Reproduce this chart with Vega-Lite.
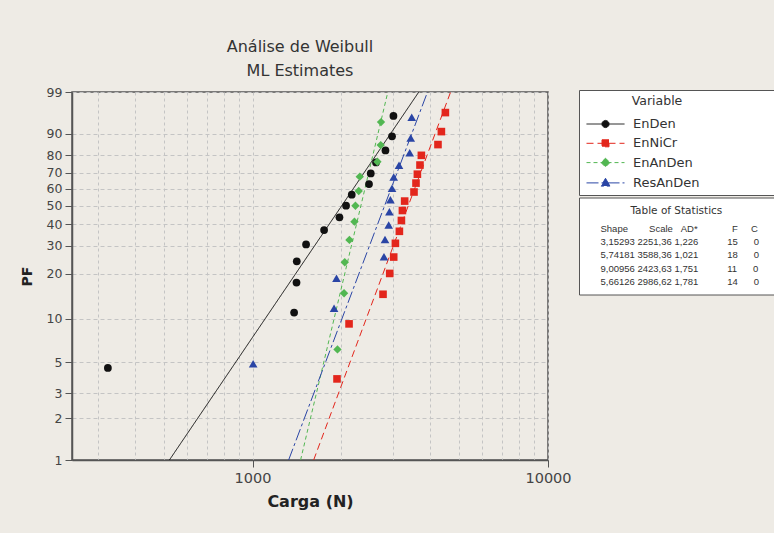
{
  "$schema": "https://vega.github.io/schema/vega-lite/v6.json",
  "autosize": {"type": "none"},
  "padding": {"left": 72, "top": 92, "right": 226, "bottom": 73},
  "width": 476,
  "height": 368,
  "background": "#eeebe5",
  "config": {
    "font": "DejaVu Sans",
    "view": {"stroke": "#555555", "strokeWidth": 1.5, "fill": "#ffffff"}
  },
  "title": {
    "text": "Análise de Weibull",
    "subtitle": "ML Estimates",
    "anchor": "middle",
    "frame": "group",
    "dx": -10,
    "offset": 7,
    "font": "DejaVu Sans",
    "fontSize": 16,
    "fontWeight": "normal",
    "color": "#333333",
    "subtitleFont": "DejaVu Sans",
    "subtitleFontSize": 16,
    "subtitleColor": "#333333",
    "subtitlePadding": 8.5
  },
  "datasets": {
    "pontos": [
      {"Variable": "EnDen", "Carga": 324, "PF": 4.545},
      {"Variable": "EnDen", "Carga": 1383, "PF": 11.039},
      {"Variable": "EnDen", "Carga": 1409, "PF": 17.532},
      {"Variable": "EnDen", "Carga": 1412, "PF": 24.026},
      {"Variable": "EnDen", "Carga": 1518, "PF": 30.519},
      {"Variable": "EnDen", "Carga": 1747, "PF": 37.013},
      {"Variable": "EnDen", "Carga": 1969, "PF": 43.506},
      {"Variable": "EnDen", "Carga": 2073, "PF": 50.0},
      {"Variable": "EnDen", "Carga": 2167, "PF": 56.494},
      {"Variable": "EnDen", "Carga": 2479, "PF": 62.987},
      {"Variable": "EnDen", "Carga": 2513, "PF": 69.481},
      {"Variable": "EnDen", "Carga": 2618, "PF": 75.974},
      {"Variable": "EnDen", "Carga": 2818, "PF": 82.468},
      {"Variable": "EnDen", "Carga": 2966, "PF": 88.961},
      {"Variable": "EnDen", "Carga": 2999, "PF": 95.455},
      {"Variable": "EnNiCr", "Carga": 1932, "PF": 3.804},
      {"Variable": "EnNiCr", "Carga": 2122, "PF": 9.239},
      {"Variable": "EnNiCr", "Carga": 2765, "PF": 14.674},
      {"Variable": "EnNiCr", "Carga": 2913, "PF": 20.109},
      {"Variable": "EnNiCr", "Carga": 3005, "PF": 25.543},
      {"Variable": "EnNiCr", "Carga": 3045, "PF": 30.978},
      {"Variable": "EnNiCr", "Carga": 3141, "PF": 36.413},
      {"Variable": "EnNiCr", "Carga": 3191, "PF": 41.848},
      {"Variable": "EnNiCr", "Carga": 3216, "PF": 47.283},
      {"Variable": "EnNiCr", "Carga": 3273, "PF": 52.717},
      {"Variable": "EnNiCr", "Carga": 3520, "PF": 58.152},
      {"Variable": "EnNiCr", "Carga": 3575, "PF": 63.587},
      {"Variable": "EnNiCr", "Carga": 3614, "PF": 69.022},
      {"Variable": "EnNiCr", "Carga": 3688, "PF": 74.457},
      {"Variable": "EnNiCr", "Carga": 3728, "PF": 79.891},
      {"Variable": "EnNiCr", "Carga": 4243, "PF": 85.326},
      {"Variable": "EnNiCr", "Carga": 4357, "PF": 90.761},
      {"Variable": "EnNiCr", "Carga": 4495, "PF": 96.196},
      {"Variable": "EnAnDen", "Carga": 1939, "PF": 6.14},
      {"Variable": "EnAnDen", "Carga": 2041, "PF": 14.912},
      {"Variable": "EnAnDen", "Carga": 2052, "PF": 23.684},
      {"Variable": "EnAnDen", "Carga": 2128, "PF": 32.456},
      {"Variable": "EnAnDen", "Carga": 2213, "PF": 41.228},
      {"Variable": "EnAnDen", "Carga": 2230, "PF": 50.0},
      {"Variable": "EnAnDen", "Carga": 2288, "PF": 58.772},
      {"Variable": "EnAnDen", "Carga": 2307, "PF": 67.544},
      {"Variable": "EnAnDen", "Carga": 2647, "PF": 76.316},
      {"Variable": "EnAnDen", "Carga": 2716, "PF": 85.088},
      {"Variable": "EnAnDen", "Carga": 2722, "PF": 93.86},
      {"Variable": "ResAnDen", "Carga": 1005, "PF": 4.861},
      {"Variable": "ResAnDen", "Carga": 1888, "PF": 11.806},
      {"Variable": "ResAnDen", "Carga": 1924, "PF": 18.75},
      {"Variable": "ResAnDen", "Carga": 2786, "PF": 25.694},
      {"Variable": "ResAnDen", "Carga": 2808, "PF": 32.639},
      {"Variable": "ResAnDen", "Carga": 2890, "PF": 39.583},
      {"Variable": "ResAnDen", "Carga": 2906, "PF": 46.528},
      {"Variable": "ResAnDen", "Carga": 2929, "PF": 53.472},
      {"Variable": "ResAnDen", "Carga": 2966, "PF": 60.417},
      {"Variable": "ResAnDen", "Carga": 3005, "PF": 67.361},
      {"Variable": "ResAnDen", "Carga": 3132, "PF": 74.306},
      {"Variable": "ResAnDen", "Carga": 3404, "PF": 81.25},
      {"Variable": "ResAnDen", "Carga": 3431, "PF": 88.194},
      {"Variable": "ResAnDen", "Carga": 3458, "PF": 95.139}
    ],
    "linhas": [
      {"Variable": "EnDen", "Carga": 523.4, "PF": 1},
      {"Variable": "EnDen", "Carga": 3654, "PF": 99},
      {"Variable": "EnNiCr", "Carga": 1610.5, "PF": 1},
      {"Variable": "EnNiCr", "Carga": 4682, "PF": 99},
      {"Variable": "EnAnDen", "Carga": 1454.5, "PF": 1},
      {"Variable": "EnAnDen", "Carga": 2871, "PF": 99},
      {"Variable": "ResAnDen", "Carga": 1325.2, "PF": 1},
      {"Variable": "ResAnDen", "Carga": 3911, "PF": 99}
    ]
  },
  "encoding": {
    "x": {
      "field": "Carga",
      "type": "quantitative",
      "scale": {"type": "log", "domain": [245, 10000], "nice": false},
      "axis": {
        "title": "Carga (N)",
        "values": [300, 400, 500, 600, 700, 800, 900, 1000, 2000, 3000, 4000, 5000, 6000, 7000, 8000, 9000, 10000],
        "labelExpr": "datum.value == 1000 || datum.value == 10000 ? format(datum.value, 'd') : ''",
        "labelFlush": false,
        "labelOverlap": false,
        "labelFont": "DejaVu Sans",
        "labelFontSize": 14.5,
        "labelColor": "#444444",
        "labelPadding": 4,
        "tickSize": 7,
        "tickColor": "#555555",
        "tickOpacity": {"condition": {"test": "datum.value == 1000 || datum.value == 10000", "value": 1}, "value": 0},
        "grid": true,
        "gridColor": "#c4c4c4",
        "gridDash": [3, 3],
        "domainColor": "#555555",
        "domainWidth": 1.5,
        "titleFont": "DejaVu Sans",
        "titleFontSize": 16,
        "titleFontWeight": "bold",
        "titleColor": "#222222",
        "titlePadding": 9
      }
    },
    "y": {
      "field": "W",
      "type": "quantitative",
      "scale": {"domain": [-4.60015, 1.52718], "nice": false, "zero": false},
      "axis": {
        "title": "PF",
        "values": [-4.60015, -3.90194, -3.49137, -2.9702, -2.25037, -1.49994, -1.03093, -0.67173, -0.36651, -0.08742, 0.18563, 0.47588, 0.83403, 1.52718],
        "labelExpr": "format(100 * (1 - exp(-exp(datum.value))), '.0f')",
        "labelFont": "DejaVu Sans",
        "labelFontSize": 12.5,
        "labelColor": "#444444",
        "labelPadding": 3,
        "labelOverlap": false,
        "labelFlush": false,
        "tickSize": 7,
        "tickColor": "#555555",
        "grid": true,
        "gridColor": "#c4c4c4",
        "gridDash": [4, 3],
        "domainColor": "#555555",
        "domainWidth": 1.5,
        "titleFont": "DejaVu Sans",
        "titleFontSize": 14,
        "titleFontWeight": "bold",
        "titleColor": "#222222",
        "titlePadding": 12
      }
    }
  },
  "layer": [
    {
      "data": {"name": "linhas"},
      "transform": [{"calculate": "log(-log(1 - datum.PF / 100))", "as": "W"}],
      "mark": {"type": "line", "strokeWidth": 1, "clip": true},
      "encoding": {
        "color": {
          "field": "Variable", "type": "nominal",
          "scale": {"domain": ["EnDen", "EnNiCr", "EnAnDen", "ResAnDen"], "range": ["#111111", "#e3261c", "#52b752", "#2a45a5"]}
        },
        "strokeDash": {
          "field": "Variable", "type": "nominal",
          "scale": {"domain": ["EnDen", "EnNiCr", "EnAnDen", "ResAnDen"], "range": [[1, 0], [7, 4], [4, 3], [12, 3, 3, 3]]}
        }
      }
    },
    {
      "data": {"name": "pontos"},
      "transform": [{"filter": {"field": "Variable", "equal": "EnDen"}}, {"calculate": "log(-log(1 - datum.PF / 100))", "as": "W"}],
      "mark": {"type": "point", "shape": "circle", "filled": true, "opacity": 1, "size": 60},
      "encoding": {"color": {"field": "Variable", "type": "nominal"}}
    },
    {
      "data": {"name": "pontos"},
      "transform": [{"filter": {"field": "Variable", "equal": "EnNiCr"}}, {"calculate": "log(-log(1 - datum.PF / 100))", "as": "W"}],
      "mark": {"type": "point", "shape": "square", "filled": true, "opacity": 1, "size": 58},
      "encoding": {"color": {"field": "Variable", "type": "nominal"}}
    },
    {
      "data": {"name": "pontos"},
      "transform": [{"filter": {"field": "Variable", "equal": "EnAnDen"}}, {"calculate": "log(-log(1 - datum.PF / 100))", "as": "W"}],
      "mark": {"type": "point", "shape": "diamond", "filled": true, "opacity": 1, "size": 70},
      "encoding": {"color": {"field": "Variable", "type": "nominal"}}
    },
    {
      "data": {"name": "pontos"},
      "transform": [{"filter": {"field": "Variable", "equal": "ResAnDen"}}, {"calculate": "log(-log(1 - datum.PF / 100))", "as": "W"}],
      "mark": {"type": "point", "shape": "triangle-up", "filled": true, "opacity": 1, "size": 75},
      "encoding": {"color": {"field": "Variable", "type": "nominal"}}
    },
    {
      "data": {"values": []},
      "mark": {"type": "point", "filled": true, "opacity": 1},
      "encoding": {
        "x": null,
        "y": null,
        "shape": {
          "field": "Variable", "type": "nominal",
          "scale": {
            "domain": ["EnDen", "EnNiCr", "EnAnDen", "ResAnDen"],
            "range": [
              "M-4.75,0H4.75M0.9,0L0.779,0.45L0.45,0.779L0,0.9L-0.45,0.779L-0.779,0.45L-0.9,0L-0.779,-0.45L-0.45,-0.779L0,-0.9L0.45,-0.779L0.779,-0.45ZM48,0",
              "M-4.75,0H4.75M-0.875,-0.875H0.875V0.875H-0.875ZM48,0",
              "M-4.75,0H4.75M0,-1.1L1.1,0L0,1.1L-1.1,0ZM48,0",
              "M-4.75,0H4.75M0,-1.15L1.1,0.8H-1.1ZM48,0"
            ]
          },
          "legend": {
            "orient": "none", "legendX": 507, "legendY": -2,
            "title": "\u200b\u00a0\u00a0\u00a0\u00a0\u00a0\u00a0\u00a0\u00a0\u00a0\u00a0\u00a0\u00a0Variable",
            "titleAnchor": "start", "titleFont": "DejaVu Sans", "titleFontSize": 12.5, "titleFontWeight": "normal", "titleColor": "#333333", "titlePadding": 10,
            "labelFont": "DejaVu Sans", "labelFontSize": 13, "labelColor": "#333333", "labelOffset": 21, "labelLimit": 0,
            "symbolSize": 64, "symbolStrokeWidth": 1, "symbolOffset": 15, "symbolOpacity": 1,
            "rowPadding": 5.3, "padding": 5, "strokeColor": "#555555", "fillColor": "#ffffff",
            "encode": {
              "symbols": {"update": {"fill": {"value": {"expr": "scale('color', datum.value)"}}, "stroke": {"value": {"expr": "scale('color', datum.value)"}}}},
              "legend": {"update": {"strokeWidth": {"value": 1.5}}}
            }
          }
        },
        "strokeDash": {
          "field": "Variable", "type": "nominal",
          "scale": {"domain": ["EnDen", "EnNiCr", "EnAnDen", "ResAnDen"], "range": [[1, 0], [7, 4], [4, 3], [12, 3, 3, 3]]},
          "legend": {
            "orient": "none", "legendX": 507, "legendY": -2,
            "title": "\u200b\u00a0\u00a0\u00a0\u00a0\u00a0\u00a0\u00a0\u00a0\u00a0\u00a0\u00a0\u00a0Variable",
            "titleAnchor": "start", "titleFont": "DejaVu Sans", "titleFontSize": 12.5, "titleFontWeight": "normal", "titleColor": "#333333", "titlePadding": 10,
            "labelFont": "DejaVu Sans", "labelFontSize": 13, "labelColor": "#333333", "labelOffset": 21, "labelLimit": 0,
            "symbolSize": 64, "symbolStrokeWidth": 1, "symbolOffset": 15, "symbolOpacity": 1,
            "rowPadding": 5.3, "padding": 5, "strokeColor": "#555555", "fillColor": "#ffffff",
            "encode": {
              "symbols": {"update": {"fill": {"value": {"expr": "scale('color', datum.value)"}}, "stroke": {"value": {"expr": "scale('color', datum.value)"}}}},
              "legend": {"update": {"strokeWidth": {"value": 1.5}}}
            }
          }
        }
      }
    },
    {
      "data": {"values": []},
      "mark": {"type": "point", "filled": true},
      "encoding": {
        "x": null,
        "y": null,
        "opacity": {
          "field": "Stat", "type": "nominal",
          "scale": {"domain": [
            "Shape\u00a0\u00a0\u00a0\u00a0\u00a0\u00a0\u00a0\u00a0Scale\u00a0\u00a0\u00a0AD*\u00a0\u00a0\u00a0\u00a0\u00a0\u00a0\u00a0\u00a0\u00a0\u00a0\u00a0\u00a0\u00a0F\u00a0\u00a0\u00a0\u00a0\u00a0C",
            "3,15293\u00a02251,36\u00a01,226\u00a0\u00a0\u00a0\u00a0\u00a0\u00a0\u00a0\u00a0\u00a0\u00a0\u00a015\u00a0\u00a0\u00a0\u00a0\u00a0\u00a00",
            "5,74181\u00a03588,36\u00a01,021\u00a0\u00a0\u00a0\u00a0\u00a0\u00a0\u00a0\u00a0\u00a0\u00a0\u00a018\u00a0\u00a0\u00a0\u00a0\u00a0\u00a00",
            "9,00956\u00a02423,63\u00a01,751\u00a0\u00a0\u00a0\u00a0\u00a0\u00a0\u00a0\u00a0\u00a0\u00a0\u00a011\u00a0\u00a0\u00a0\u00a0\u00a0\u00a00",
            "5,66126\u00a02986,62\u00a01,781\u00a0\u00a0\u00a0\u00a0\u00a0\u00a0\u00a0\u00a0\u00a0\u00a0\u00a014\u00a0\u00a0\u00a0\u00a0\u00a0\u00a00"
          ]},
          "legend": {
            "orient": "none", "legendX": 507, "legendY": 105.5,
            "title": "\u200b\u00a0\u00a0\u00a0\u00a0\u00a0\u00a0\u00a0\u00a0\u00a0\u00a0\u00a0\u00a0\u00a0Table of Statistics",
            "titleAnchor": "start", "titleFont": "DejaVu Sans", "titleFontSize": 10.5, "titleFontWeight": "normal", "titleColor": "#333333", "titlePadding": 8,
            "labelFont": "Liberation Sans", "labelFontSize": 9.5, "labelColor": "#333333", "labelOffset": 4, "labelLimit": 0,
            "symbolType": "M0,0H400", "symbolSize": 1, "symbolStrokeWidth": 0, "symbolOffset": 0,
            "rowPadding": 2.3, "padding": 8, "strokeColor": "#555555", "fillColor": "#ffffff",
            "encode": {
              "symbols": {"update": {"fill": {"value": "transparent"}, "stroke": {"value": "transparent"}, "strokeWidth": {"value": 0}}},
              "legend": {"update": {"strokeWidth": {"value": 1.5}}}
            }
          }
        }
      }
    }
  ]
}
